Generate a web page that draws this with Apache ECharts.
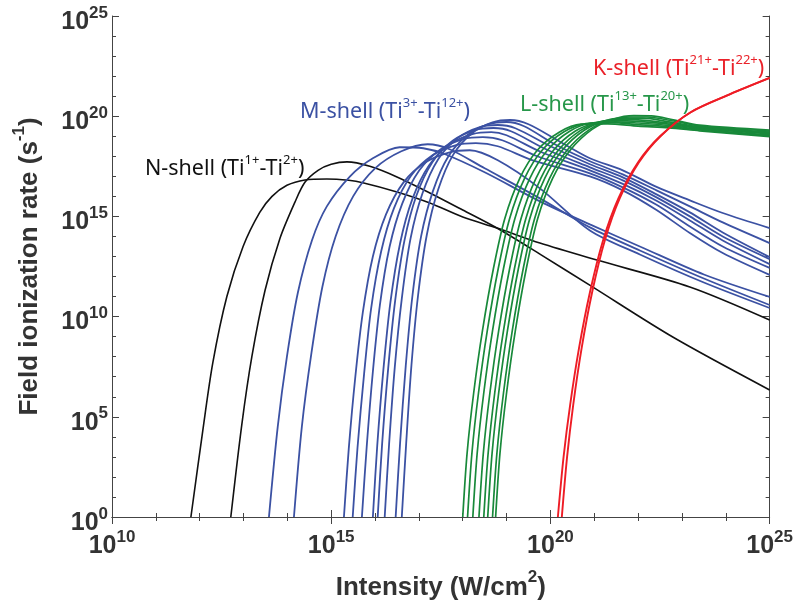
<!DOCTYPE html>
<html>
<head>
<meta charset="utf-8">
<script src="https://cdn.jsdelivr.net/npm/echarts@6/dist/echarts.min.js"></script>
<style>html,body{margin:0;padding:0;background:#fff;}#c{width:796px;height:609px;}</style>
</head>
<body>
<div id="c"></div>
<script>
// values are log10(Intensity [W/cm^2]) , log10(rate [s^-1])
const xTicks = [10, 15, 20, 25];
const yTicks = [0, 5, 10, 15, 20, 25];

const N_Ti1 = [[11.80,0],[12.07,4.3],[12.30,7.7],[12.62,11.0],[12.99,13.5],[13.37,15.2],[13.65,16.0],[13.99,16.55],[14.4,16.82],[14.9,16.87],[15.4,16.8],[15.72,16.68],[16.5,16.22],[17.25,15.67],[18.0,14.97],[18.78,14.42],[19.76,13.67],[21.06,12.82],[23.18,11.48],[25.0,9.83]];
const N_Ti2 = [[12.71,0],[12.96,4.6],[13.19,8.0],[13.49,11.3],[13.83,13.9],[14.17,15.7],[14.4,16.7],[14.7,17.3],[15.0,17.6],[15.36,17.72],[15.88,17.5],[16.5,16.97],[17.25,16.17],[18.0,15.32],[18.78,14.42],[19.76,13.12],[20.96,11.48],[22.79,8.98],[25.0,6.34]];

const M_Ti3 = [[13.58,0],[13.78,4.5],[13.99,8.0],[14.24,11.2],[14.56,13.8],[14.9,15.5],[15.43,17.0],[15.95,17.9],[16.56,18.45],[17.1,18.4],[17.6,18.1],[18.5,17.2],[19.76,15.75],[20.9,14.6],[22.04,13.5],[23.5,12.1],[25,10.98]];
const M_Ti4 = [[14.15,0],[14.33,4.5],[14.55,8.2],[14.8,11.5],[15.1,14.0],[15.5,16.0],[16.0,17.4],[16.6,18.25],[17.2,18.6],[17.7,18.35],[18.5,17.4],[19.76,15.9],[20.9,14.45],[22.04,13.3],[23.5,11.9],[25,10.58]];
const M_Ti5 = [[15.29,0],[15.4,3.4],[15.55,7.0],[15.72,10.2],[15.95,13.0],[16.25,15.1],[16.65,16.7],[17.15,17.7],[17.7,18.2],[18.16,18.3],[18.8,17.8],[19.76,16.4],[20.9,14.3],[22.04,13.1],[23.5,11.7],[25,10.43]];
const M_Ti6 = [[15.49,0],[15.60,3.47],[15.75,7.14],[15.91,10.4],[16.14,13.26],[16.43,15.4],[16.82,17.03],[17.31,18.05],[17.85,18.56],[18.30,18.66],[18.8,18.5],[19.6,17.8],[20.9,17.0],[21.65,16.3],[22.42,15.32],[23.18,14.17],[23.93,13.17],[25,12.08]];
const M_Ti7 = [[15.70,0],[15.81,3.52],[15.95,7.25],[16.11,10.57],[16.33,13.47],[16.62,15.64],[17.01,17.3],[17.49,18.34],[18.01,18.86],[18.46,18.96],[18.9,18.8],[19.7,18.0],[20.9,17.15],[21.65,16.45],[22.42,15.58],[23.18,14.5],[23.93,13.5],[25,12.43]];
const M_Ti8 = [[15.95,0],[16.05,3.57],[16.19,7.35],[16.35,10.71],[16.57,13.65],[16.85,15.86],[17.23,17.54],[17.70,18.59],[18.22,19.11],[18.65,19.21],[19.0,19.05],[19.8,18.2],[20.9,17.3],[21.65,16.62],[22.42,15.78],[23.18,14.8],[23.93,13.8],[25,12.62]];
const M_Ti9 = [[16.06,0],[16.16,3.61],[16.30,7.43],[16.46,10.82],[16.67,13.79],[16.94,16.02],[17.31,17.72],[17.77,18.78],[18.28,19.31],[18.70,19.41],[19.1,19.25],[19.9,18.35],[20.9,17.45],[21.65,16.8],[22.42,15.95],[23.18,15.0],[23.93,14.0],[25,12.87]];
const M_Ti10 = [[16.22,0],[16.32,3.63],[16.45,7.48],[16.61,10.9],[16.81,13.9],[17.08,16.14],[17.44,17.85],[17.89,18.92],[18.39,19.46],[18.80,19.56],[19.2,19.4],[20.0,18.5],[20.9,17.6],[21.65,16.95],[22.42,16.1],[23.18,15.2],[23.93,14.2],[25,12.97]];
const M_Ti11 = [[16.47,0],[16.57,3.66],[16.70,7.54],[16.85,10.99],[17.05,14.0],[17.32,16.26],[17.67,17.99],[18.11,19.06],[18.59,19.6],[19.0,19.71],[19.4,19.5],[20.1,18.6],[20.9,17.75],[21.65,17.1],[22.42,16.3],[23.18,15.5],[23.93,14.7],[25,13.67]];
const M_Ti12 = [[16.61,0],[16.71,3.68],[16.83,7.57],[16.98,11.04],[17.18,14.07],[17.44,16.34],[17.78,18.07],[18.21,19.15],[18.68,19.69],[19.08,19.81],[19.5,19.6],[20.2,18.75],[20.9,17.9],[21.65,17.3],[22.42,16.47],[23.18,15.8],[23.93,15.17],[25,14.42]];

const L_Ti13 = [[18.00,0],[18.10,3.2],[18.25,6.2],[18.45,9.3],[18.70,12.4],[18.96,14.9],[19.30,16.9],[19.70,18.3],[20.20,19.2],[20.70,19.6],[21.3,19.62],[22.0,19.5],[22.7,19.42],[23.4,19.27],[25,18.98]];
const L_Ti14 = [[18.11,0],[18.21,3.2],[18.36,6.2],[18.56,9.3],[18.81,12.4],[19.07,14.9],[19.41,16.9],[19.81,18.3],[20.31,19.22],[20.81,19.63],[21.4,19.68],[22.0,19.58],[22.7,19.48],[23.4,19.31],[25,19.03]];
const L_Ti15 = [[18.23,0],[18.33,3.2],[18.48,6.2],[18.68,9.3],[18.93,12.4],[19.19,14.9],[19.53,16.9],[19.93,18.3],[20.43,19.24],[20.93,19.66],[21.5,19.72],[22.0,19.66],[22.7,19.54],[23.4,19.35],[25,19.07]];
const L_Ti16 = [[18.37,0],[18.47,3.2],[18.62,6.2],[18.82,9.3],[19.07,12.4],[19.33,14.9],[19.67,16.9],[20.07,18.3],[20.57,19.26],[21.07,19.7],[21.5,19.78],[22.0,19.74],[22.7,19.6],[23.4,19.39],[25,19.12]];
const L_Ti17 = [[18.48,0],[18.58,3.2],[18.73,6.2],[18.93,9.3],[19.18,12.4],[19.44,14.9],[19.78,16.9],[20.18,18.3],[20.68,19.28],[21.18,19.74],[21.6,19.84],[22.0,19.82],[22.7,19.66],[23.4,19.43],[25,19.17]];
const L_Ti18 = [[18.57,0],[18.67,3.2],[18.82,6.2],[19.02,9.3],[19.27,12.4],[19.53,14.9],[19.87,16.9],[20.27,18.3],[20.77,19.3],[21.27,19.78],[21.7,19.9],[22.1,19.9],[22.7,19.72],[23.4,19.47],[25,19.21]];
const L_Ti19 = [[18.68,0],[18.78,3.2],[18.93,6.2],[19.13,9.3],[19.38,12.4],[19.64,14.9],[19.98,16.9],[20.38,18.3],[20.88,19.32],[21.38,19.82],[21.8,19.96],[22.2,19.96],[22.8,19.76],[23.4,19.51],[25,19.26]];
const L_Ti20 = [[18.75,0],[18.85,3.2],[19.00,6.2],[19.20,9.3],[19.45,12.4],[19.71,14.9],[20.05,16.9],[20.45,18.3],[20.95,19.34],[21.45,19.86],[21.9,20.03],[22.3,20.02],[22.8,19.82],[23.4,19.55],[25,19.31]];

const K_Ti21 = [[20.17,0],[20.30,3.0],[20.45,5.6],[20.65,8.4],[20.90,11.2],[21.20,13.8],[21.55,15.9],[22.0,17.7],[22.5,19.0],[23.2,20.2],[24.1,21.1],[25,21.91]];
const K_Ti22 = [[20.26,0],[20.38,3.0],[20.52,5.6],[20.71,8.4],[20.95,11.2],[21.24,13.8],[21.58,15.9],[22.02,17.7],[22.51,19.0],[23.2,20.2],[24.1,21.1],[25,21.91]];

const groups = [
  {name: 'N-shell', color: '#111111', width: 1.6, curves: [N_Ti1, N_Ti2]},
  {name: 'M-shell', color: '#3b51a3', width: 1.8, curves: [M_Ti3, M_Ti4, M_Ti5, M_Ti6, M_Ti7, M_Ti8, M_Ti9, M_Ti10, M_Ti11, M_Ti12]},
  {name: 'L-shell', color: '#18893a', width: 1.7, curves: [L_Ti13, L_Ti14, L_Ti15, L_Ti16, L_Ti17, L_Ti18, L_Ti19, L_Ti20]},
  {name: 'K-shell', color: '#ee1c25', width: 1.9, curves: [K_Ti21, K_Ti22]}
];

const series = [];
groups.forEach(g => g.curves.forEach(c => series.push({
  type: 'line', name: g.name, data: c, showSymbol: false, smooth: 0.3,
  lineStyle: {color: g.color, width: g.width}, silent: true, clip: true, z: 3
})));

const axisFont = 'Liberation Sans, Arial, sans-serif';
const tickRich = {
  b: {fontSize: 25, fontWeight: 'bold', fontFamily: axisFont, color: '#333', lineHeight: 30, verticalAlign: 'bottom'},
  s: {fontSize: 17, fontWeight: 'bold', fontFamily: axisFont, color: '#333', lineHeight: 18, verticalAlign: 'top'}
};
const fmt = v => '{b|10}{s|' + v + '}';
const frameColor = '#444';

const chart = echarts.init(document.getElementById('c'), null, {renderer: 'canvas'});
const labelFont = 'Noto Sans, Open Sans, sans-serif';
function shellLabel(x, y, color, a, b) {
  return {
    type: 'text', left: x, top: y, z: 10,
    style: {
      text: '{t|' + a[0] + '}{u|' + a[1] + '}{t|-Ti}{u|' + b + '}{t|)}',
      rich: {
        t: {fontSize: 21.5, fontFamily: labelFont, fill: color, lineHeight: 26, verticalAlign: 'bottom'},
        u: {fontSize: 13, fontFamily: labelFont, fill: color, lineHeight: 22, verticalAlign: 'top'}
      }
    }
  };
}
const titleRich = {
  a: {fontSize: 26, fontWeight: 'bold', fontFamily: axisFont, color: '#333', lineHeight: 32, verticalAlign: 'bottom'},
  b: {fontSize: 17, fontWeight: 'bold', fontFamily: axisFont, color: '#333', lineHeight: 22, verticalAlign: 'top'}
};

chart.setOption({
  animation: false,
  backgroundColor: '#fff',
  grid: {left: 112, right: 26, top: 16, bottom: 92, show: false},
  xAxis: [{
    type: 'value', min: 10, max: 25, interval: 5, position: 'bottom',
    name: '{a|Intensity (W/cm}{b|2}{a|)}', nameLocation: 'middle', nameGap: 52,
    nameTextStyle: {rich: titleRich},
    axisLine: {show: true, lineStyle: {color: frameColor, width: 1}},
    axisTick: {show: true, inside: true, length: 7, lineStyle: {color: frameColor}},
    minorTick: {show: true, splitNumber: 5, length: 4, lineStyle: {color: frameColor}},
    splitLine: {show: false},
    axisLabel: {formatter: fmt, rich: tickRich, margin: 12}
  }, {
    type: 'value', min: 10, max: 25, interval: 5, position: 'top',
    axisLine: {show: true, lineStyle: {color: frameColor, width: 1}},
    axisTick: {show: true, inside: true, length: 7, lineStyle: {color: frameColor}},
    minorTick: {show: true, splitNumber: 5, length: 4, lineStyle: {color: frameColor}},
    splitLine: {show: false}, axisLabel: {show: false}
  }],
  yAxis: [{
    type: 'value', min: 0, max: 25, interval: 5, position: 'left',
    name: '{a|Field ionization rate (s}{b|-1}{a|)}', nameLocation: 'middle', nameGap: 69, nameRotate: 90,
    nameTextStyle: {rich: titleRich},
    axisLine: {show: true, lineStyle: {color: frameColor, width: 1}},
    axisTick: {show: true, inside: true, length: 7, lineStyle: {color: frameColor}},
    minorTick: {show: true, splitNumber: 5, length: 4, lineStyle: {color: frameColor}},
    splitLine: {show: false},
    axisLabel: {formatter: fmt, rich: tickRich, margin: 4, padding: [7, 0, 0, 0]}
  }, {
    type: 'value', min: 0, max: 25, interval: 5, position: 'right',
    axisLine: {show: true, lineStyle: {color: frameColor, width: 1}},
    axisTick: {show: true, inside: true, length: 7, lineStyle: {color: frameColor}},
    minorTick: {show: true, splitNumber: 5, length: 4, lineStyle: {color: frameColor}},
    splitLine: {show: false}, axisLabel: {show: false}
  }],
  graphic: [
    shellLabel(145, 154, '#111111', ['N-shell (Ti', '1+'], '2+'),
    shellLabel(300, 97, '#3b51a3', ['M-shell (Ti', '3+'], '12+'),
    shellLabel(520, 90, '#27974a', ['L-shell (Ti', '13+'], '20+'),
    shellLabel(593, 54, '#ea2129', ['K-shell (Ti', '21+'], '22+')
  ],
  series: series
});
</script>
</body>
</html>
